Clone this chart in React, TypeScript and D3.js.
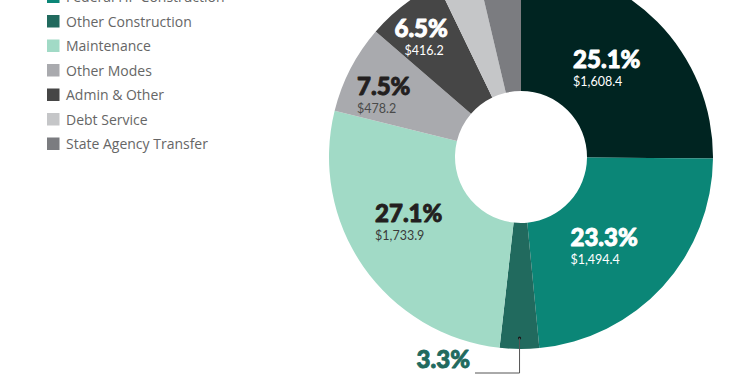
import React from "react";
import * as d3 from "d3";

const categories = [
  "State HP Construction",
  "Federal HP Construction",
  "Other Construction",
  "Maintenance",
  "Other Modes",
  "Admin & Other",
  "Debt Service",
  "State Agency Transfer",
];
const values = [1608.4, 1494.4, 211.5, 1733.9, 478.2, 416.2, 222.0, 236.0];
const percentLabels = ["25.1%", "23.3%", "3.3%", "27.1%", "7.5%", "6.5%", "", ""];
const valueLabels = ["$1,608.4", "$1,494.4", "", "$1,733.9", "$478.2", "$416.2", "", ""];
const colors = [
  "#002421",
  "#0B8677",
  "#216A5E",
  "#A1DAC6",
  "#A9AAAE",
  "#464646",
  "#C5C6C8",
  "#7B7C80",
];
const pctColors = ["#FFFFFF", "#FFFFFF", "#216A5E", "#231F20", "#231F20", "#FFFFFF", "", ""];
const valColors = ["#FFFFFF", "#FFFFFF", "", "#3A3A3A", "#4A4A4A", "#FFFFFF", "", ""];
// label placement style: radius of label block centre, angle tweak (deg), alignment
const labelRadius = [122.7, 122.4, 0, 130.4, 148.1, 155.4, 0, 0];
const labelShift = [-1, 4.8, 0, 4.4, -3.1, -2.5, 0, 0];
const labelAlign = ["start", "start", "", "start", "start", "middle", "", ""];

export default function App() {
  const W = 750;
  const H = 375;
  const cx = 521;
  const cy = 157;
  const rOuter = 192;
  const rInner = 66;

  const data = categories.map((c, i) => ({ c, v: values[i], i }));
  const pie = d3
    .pie<any>()
    .sort(null)
    .value((d: any) => d.v)
    .startAngle(0)
    .endAngle(Math.PI * 2);
  const arcs = pie(data);
  const arc = d3.arc<any>().innerRadius(rInner).outerRadius(rOuter);

  const pctFont = 24;
  const legendY0 = -27.5;
  const legendStep = 24.5;
  const pctStyle = {
    fontFamily: "Lato, 'DejaVu Sans', sans-serif",
    fontWeight: 900,
    fontSize: pctFont,
  } as any;

  return (
    <svg
      width={W}
      height={H}
      style={{ position: "absolute", left: 0, top: 0, background: "#fff" }}
    >
      <g transform={`translate(${cx},${cy})`}>
        {arcs.map((a, i) => (
          <path key={i} d={arc(a) as string} fill={colors[i]} />
        ))}
        {arcs.map((a, i) => {
          if (!labelRadius[i]) return null;
          const mid = (a.startAngle + a.endAngle) / 2 + (labelShift[i] * Math.PI) / 180;
          const x = labelRadius[i] * Math.sin(mid);
          const y = -labelRadius[i] * Math.cos(mid);
          const len = percentLabels[i].length;
          const pw = 58 + (len - 4) * 9;
          const align = labelAlign[i];
          const tx = align === "start" ? x - pw / 2 : x;
          return (
            <g key={"l" + i}>
              <text
                x={tx}
                y={y - 1}
                textAnchor={align}
                style={pctStyle}
                fill={pctColors[i]}
                stroke={pctColors[i]}
                strokeWidth={0.9}
                strokeLinejoin="round"
              >
                {percentLabels[i]}
              </text>
              <text
                x={align === "start" ? tx : x + 3}
                y={y + 17}
                textAnchor={align}
                fontFamily="Lato, 'Open Sans', sans-serif"
                fontWeight={400}
                fontSize={12.5}
                fill={valColors[i]}
              >
                {valueLabels[i]}
              </text>
            </g>
          );
        })}
        {(() => {
          const a = arcs[2];
          const mid = (a.startAngle + a.endAngle) / 2;
          const rd = 181;
          const dx = rd * Math.sin(mid);
          const dy = -rd * Math.cos(mid);
          const lineY = 373 - cy;
          const endX = 475 - cx;
          return (
            <g>
              <circle cx={dx} cy={dy} r={1.6} fill="#1a1a1a" />
              <polyline
                points={`${dx},${dy} ${dx},${lineY} ${endX},${lineY}`}
                fill="none"
                stroke="#555"
                strokeWidth={1}
              />
              <text
                x={endX - 5}
                y={lineY - 5}
                textAnchor="end"
                style={pctStyle}
                fill={pctColors[2]}
                stroke={pctColors[2]}
                strokeWidth={0.9}
                strokeLinejoin="round"
              >
                {percentLabels[2]}
              </text>
            </g>
          );
        })()}
      </g>
      <g>
        {categories.map((c, i) => {
          const y = legendY0 + i * legendStep;
          return (
            <g key={"lg" + i}>
              <rect x={47} y={y - 6.5} width={12.5} height={12.5} fill={colors[i]} />
              <text
                x={66}
                y={y + 5}
                fontFamily="'Open Sans', Lato, sans-serif"
                fontSize={14}
                fill="#666"
              >
                {c}
              </text>
            </g>
          );
        })}
      </g>
    </svg>
  );
}
